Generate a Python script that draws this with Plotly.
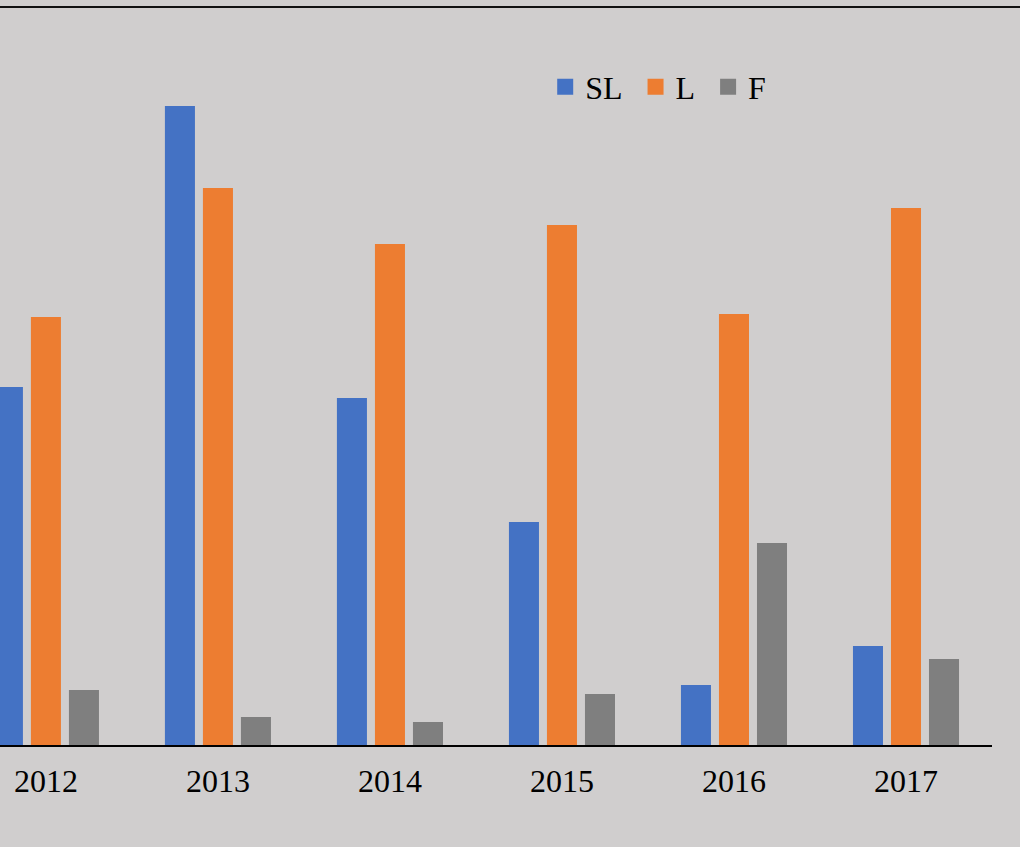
import plotly.graph_objects as go

# Yearly values for the three series
years = ["2012", "2013", "2014", "2015", "2016", "2017"]
sl_values = [35.8, 63.9, 34.7, 22.3, 6.0, 9.9]
l_values = [42.8, 55.7, 50.1, 52.0, 43.1, 53.7]
f_values = [5.5, 2.8, 2.3, 5.1, 20.2, 8.6]

series_names = ["SL", "L", "F"]
series_colors = ["#4472C4", "#ED7D31", "#7F7F7F"]
series_values = [sl_values, l_values, f_values]

bg = "#D0CECE"
font_family = "Liberation Serif, Times New Roman, serif"

fig = go.Figure()

for name, color, vals in zip(series_names, series_colors, series_values):
    fig.add_trace(go.Bar(
        x=years, y=vals, name=name,
        marker=dict(color=color, line=dict(width=0)),
        showlegend=False,
    ))

# Square legend keys (a trailing no-break space widens the entry spacing)
for i, (name, color) in enumerate(zip(series_names, series_colors)):
    label = name if i == len(series_names) - 1 else name + "\u00a0"
    fig.add_trace(go.Scatter(
        x=[None], y=[None], mode="markers", name=label,
        marker=dict(symbol="square", size=16, color=color),
        showlegend=True,
    ))

fig.update_layout(
    width=1020, height=847,
    margin=dict(l=0, r=28, t=7, b=102),
    paper_bgcolor=bg, plot_bgcolor=bg,
    barmode="group", bargap=0.337, bargroupgap=0.21,
    font=dict(family=font_family, size=32, color="black"),
    showlegend=True,
    legend=dict(
        orientation="h", x=0.5496, xanchor="left",
        y=0.8916, yanchor="middle",
        bgcolor="rgba(0,0,0,0)",
        font=dict(family=font_family, size=32, color="black"),
        itemclick=False, itemdoubleclick=False,
    ),
    xaxis=dict(
        type="category", range=[-0.267, 5.5],
        showline=True, linecolor="black", linewidth=2,
        showgrid=False, zeroline=False, ticks="",
        ticklabelstandoff=7,
        tickfont=dict(family=font_family, size=32, color="black"),
        fixedrange=True,
    ),
    yaxis=dict(
        range=[0, 73.8], visible=False, showgrid=False, zeroline=False,
        fixedrange=True,
    ),
    shapes=[
        dict(type="line", xref="paper", yref="paper",
             x0=-0.05, x1=1.1, y0=1.0, y1=1.0,
             line=dict(color="#111111", width=2)),
    ],
)

fig.write_html("out.html", config={"displayModeBar": False})
